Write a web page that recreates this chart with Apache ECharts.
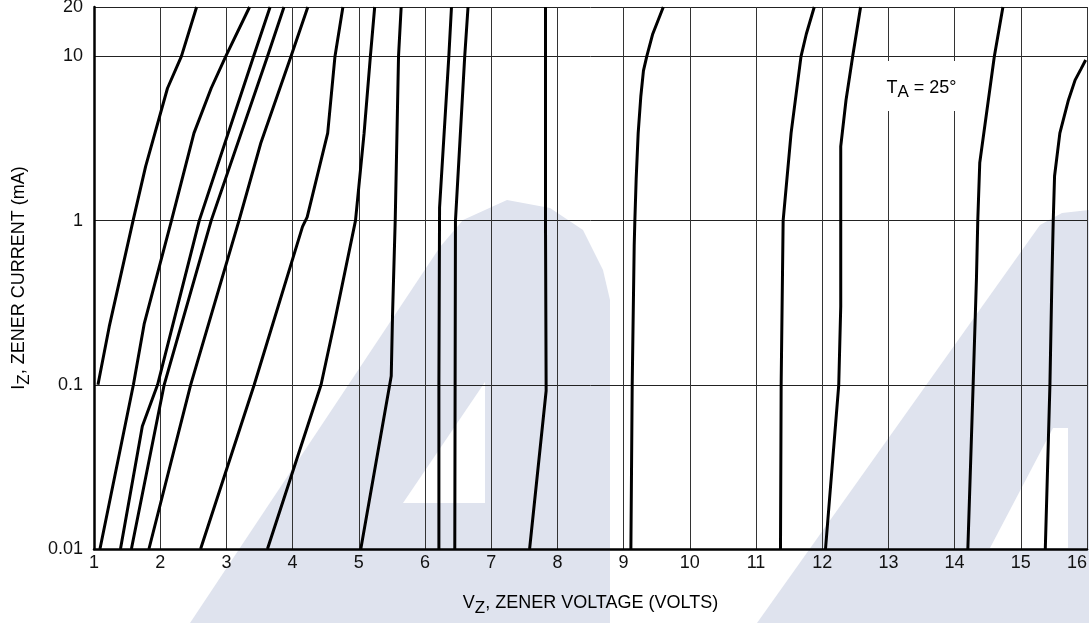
<!DOCTYPE html>
<html>
<head>
<meta charset="utf-8">
<script src="https://cdn.jsdelivr.net/npm/echarts@6/dist/echarts.min.js"></script>
<style>
html,body{margin:0;padding:0;background:#fff;}
#chart{width:1089px;height:623px;}
</style>
</head>
<body>
<div id="chart"></div>
<script>
// ---- data (V_Z in volts, I_Z in mA) ----
const xTicks = [1,2,3,4,5,6,7,8,9,10,11,12,13,14,15,16];
const yTicks = [0.01,0.1,1,10,20];

const curve01 = [[1.06,0.1],[1.23,0.226],[1.59,1],[1.78,2.14],[2.11,6.4],[2.32,10],[2.55,20]];
const curve02 = [[1.09,0.01],[1.595,0.1],[1.76,0.237],[2.17,1],[2.51,3.41],[2.77,6.4],[2.99,10],[3.35,20]];
const curve03 = [[1.40,0.01],[1.73,0.056],[1.96,0.1],[2.59,1],[3.41,10],[3.66,20]];
const curve04 = [[1.565,0.01],[2.06,0.1],[2.77,1],[3.62,10],[3.87,20]];
const curve05 = [[1.83,0.01],[2.46,0.1],[3.19,1],[3.52,2.97],[3.975,10],[4.23,20]];
const curve06 = [[2.61,0.01],[3.42,0.1],[4.15,0.92],[4.22,1.05],[4.53,3.41],[4.64,10],[4.76,20]];
const curve07 = [[3.62,0.01],[4.43,0.1],[4.63,0.237],[4.95,1],[5.08,3.41],[5.175,10],[5.24,20]];
const curve08 = [[5.03,0.01],[5.49,0.113],[5.51,0.27],[5.55,1],[5.60,10],[5.64,20]];
const curve09 = [[6.21,0.01],[6.21,0.1],[6.22,1.2],[6.36,10],[6.40,20]];
const curve10 = [[6.45,0.01],[6.46,1],[6.60,10],[6.65,20]];
const curve11 = [[7.58,0.01],[7.83,0.092],[7.82,1],[7.82,20]];
const curve12 = [[9.11,0.01],[9.13,0.1],[9.16,0.7],[9.17,1],[9.19,1.8],[9.22,3.4],[9.26,5.7],[9.30,8.2],[9.35,10],[9.44,13.7],[9.60,20]];
const curve13 = [[11.37,0.01],[11.38,0.1],[11.41,1],[11.53,3.41],[11.68,10],[11.76,13.7],[11.88,20]];
const curve14 = [[12.05,0.01],[12.25,0.1],[12.28,0.3],[12.28,2.83],[12.36,5.43],[12.46,10],[12.58,20]];
const curve15 = [[14.20,0.01],[14.28,0.1],[14.33,0.443],[14.35,1],[14.38,2.25],[14.60,10],[14.73,20]];
const curve16 = [[15.37,0.01],[15.44,0.1],[15.47,0.443],[15.49,1],[15.51,1.87],[15.59,3.41],[15.72,5.43],[15.82,7.17],[15.91,8.4],[15.98,9.52]];

const curves = [curve01,curve02,curve03,curve04,curve05,curve06,curve07,curve08,
                curve09,curve10,curve11,curve12,curve13,curve14,curve15,curve16];

const xTitle = ['V', 'Z', ', ZENER VOLTAGE (VOLTS)'];
const yTitle = ['I', 'Z', ', ZENER CURRENT (mA)'];
const note = ['T', 'A', ' = 25°'];

// ---- styling ----
const FONT = "'Liberation Sans Narrow','Arial Narrow','Liberation Sans',Arial,sans-serif";
const FS = 18;
const rich = {
  n: {fontFamily: FONT, fontSize: FS, color: '#000'},
  s: {fontFamily: FONT, fontSize: 17, color: '#000', padding: [10, 0, 0, 0]}
};
const richText = p => '{n|' + p[0] + '}{s|' + p[1] + '}{n|' + p[2] + '}';

const chart = echarts.init(document.getElementById('chart'), null, {renderer: 'canvas'});

const WM = '#dfe3ee';
const option = {
  animation: false,
  backgroundColor: '#fff',
  graphic: [
    {type: 'polygon', z: -10, silent: true,
     shape: {points: [[190,623],[440,247],[463,220],[507,200],[550,208],[583,230],[603,270],[610,300],[610,623]]},
     style: {fill: WM}},
    {type: 'polygon', z: -9, silent: true,
     shape: {points: [[403,503],[485,382],[485,503]]}, style: {fill: '#fff'}},
    {type: 'polygon', z: -10, silent: true,
     shape: {points: [[757,623],[1040,225],[1062,213],[1089,210],[1089,623]]},
     style: {fill: WM}},
    {type: 'polygon', z: -9, silent: true,
     shape: {points: [[1053,428],[1068,428],[1068,548],[990,548]]}, style: {fill: '#fff'}},
    {type: 'polygon', z: -10, silent: true,
     shape: {points: [[1000,623],[1010,606],[1089,604],[1089,623]]}, style: {fill: WM}}
  ],
  grid: {left: 94, right: 2, top: 7, bottom: 74, containLabel: false, outerBoundsMode: 'none'},
  xAxis: {
    type: 'value',
    min: xTicks[0], max: xTicks[xTicks.length - 1], interval: 1,
    axisLine: {show: true, onZero: false, lineStyle: {color: '#000', width: 2.5}},
    axisTick: {show: false},
    splitLine: {show: true, lineStyle: {color: '#333', width: 1}},
    axisLabel: {fontFamily: FONT, fontSize: FS, color: '#111', margin: 5, alignMaxLabel: 'right'},
    name: richText(xTitle),
    nameLocation: 'middle',
    nameGap: 41,
    nameTextStyle: {rich: rich}
  },
  yAxis: {
    type: 'log', logBase: 10,
    min: yTicks[0], max: yTicks[yTicks.length - 1],
    axisLine: {show: true, onZero: false, lineStyle: {color: '#000', width: 2.5}},
    axisTick: {show: false},
    splitLine: {show: true, lineStyle: {color: '#222', width: 1}},
    axisLabel: {fontFamily: FONT, fontSize: FS, color: '#111', margin: 11,
                formatter: v => String(+Number(v).toPrecision(6))},
    name: richText(yTitle),
    nameLocation: 'middle',
    nameGap: 61,
    nameRotate: 90,
    nameTextStyle: {rich: rich}
  },
  series: curves.map((d, i) => ({
    type: 'line', name: 'curve' + (i + 1), data: d,
    symbol: 'none', smooth: false, clip: true, silent: true,
    lineStyle: {color: '#000', width: 3}, z: 3
  })).concat([{
    type: 'scatter', name: 'note', data: [[13.5, 6.6]], symbolSize: 1, silent: true, z: 4,
    itemStyle: {color: '#fff', opacity: 1},
    label: {
      show: true, position: 'inside', color: '#000', opacity: 1,
      formatter: richText(note), rich: rich,
      backgroundColor: '#fff', padding: [13, 7, 10, 7]
    }
  }])
};
chart.setOption(option);
</script>
</body>
</html>
